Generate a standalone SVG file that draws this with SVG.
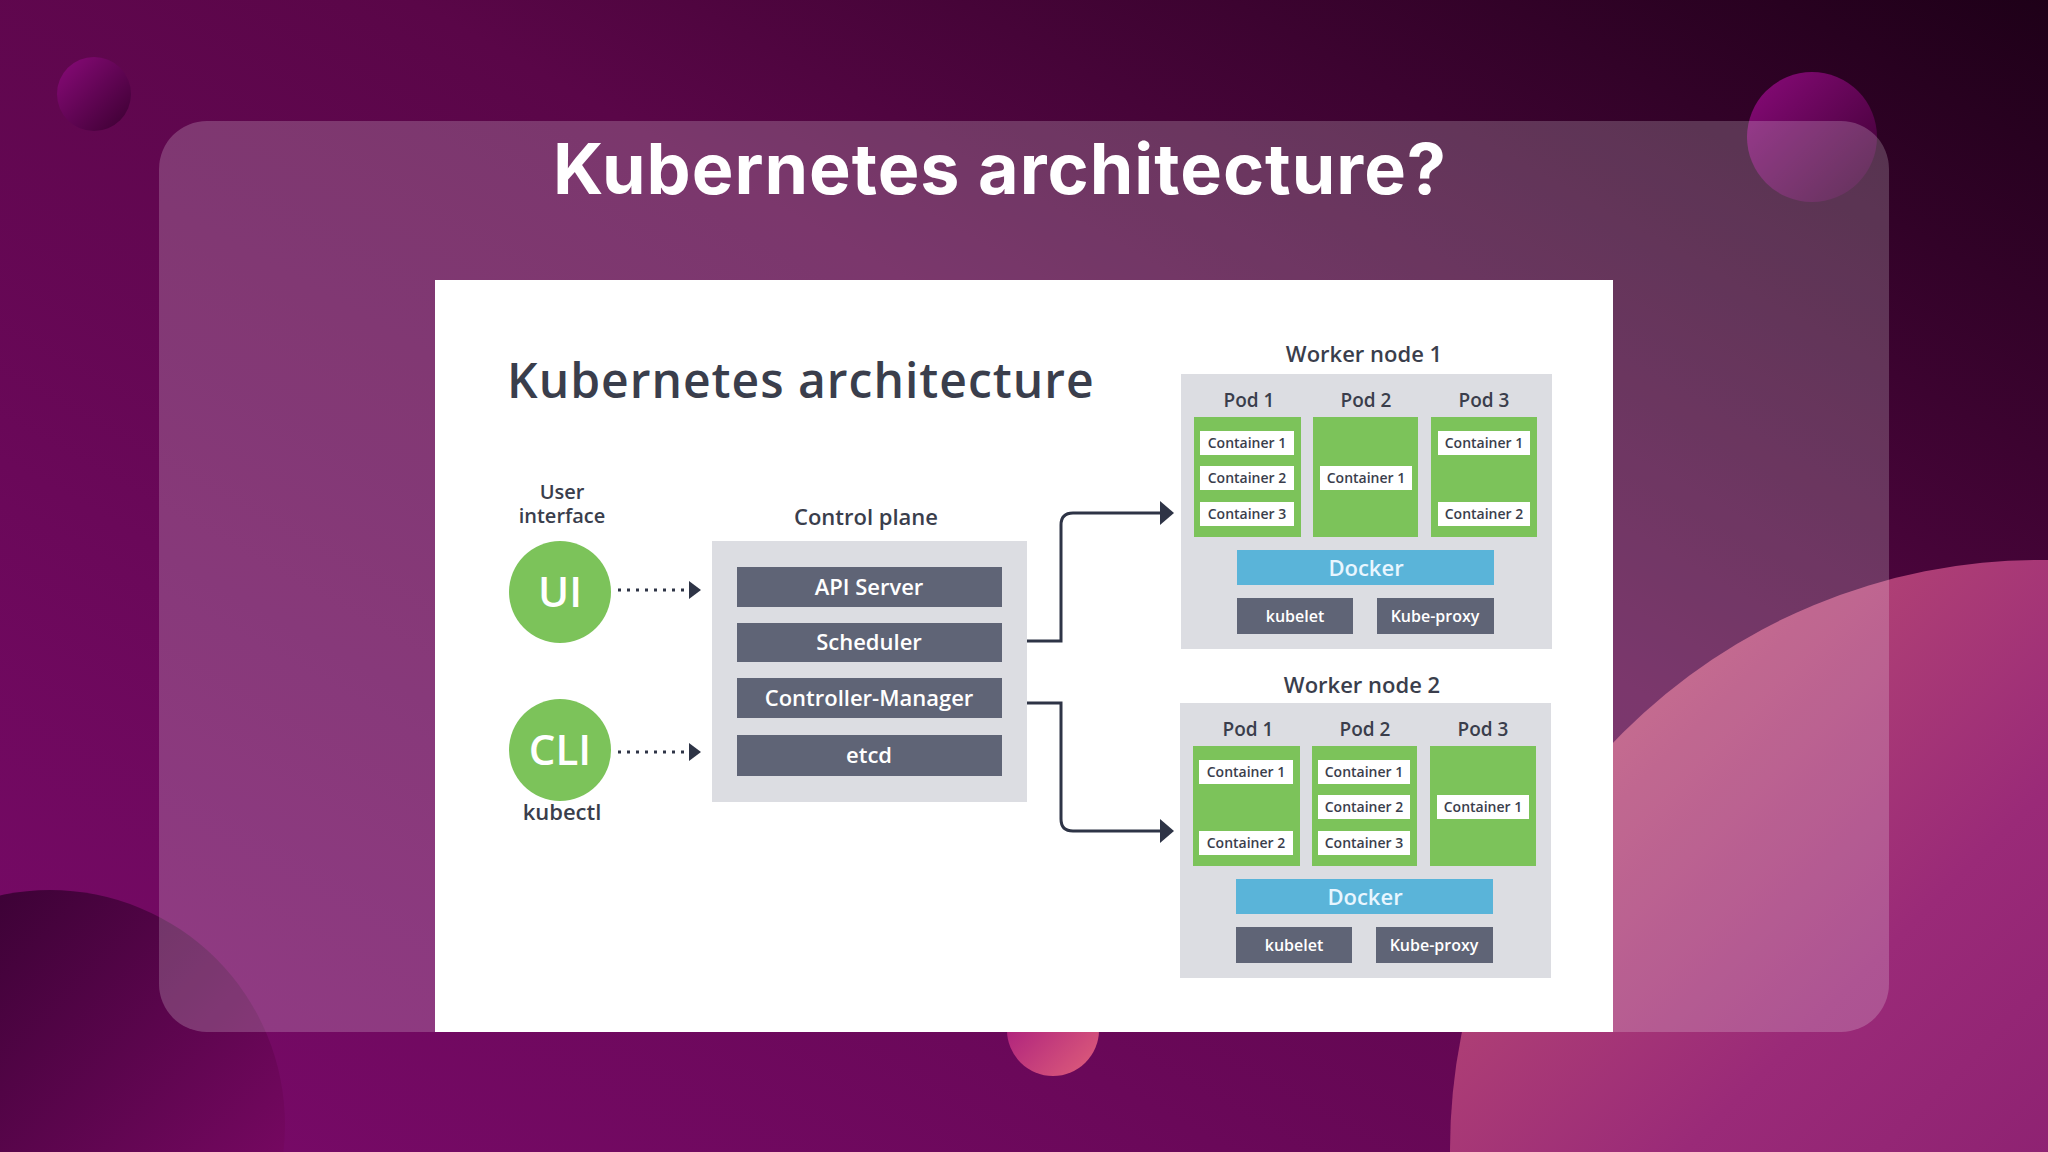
<svg xmlns="http://www.w3.org/2000/svg" width="2048" height="1152" viewBox="0 0 2048 1152">
<defs>
<linearGradient id="bg" x1="0" y1="1" x2="1" y2="0">
<stop offset="0" stop-color="#7a0a6a"/><stop offset="0.6" stop-color="#5a0648"/><stop offset="1" stop-color="#1e0018"/>
</linearGradient>
<linearGradient id="pink" x1="0" y1="0" x2="1" y2="1">
<stop offset="0" stop-color="#c85a72"/><stop offset="0.35" stop-color="#9a2a78"/><stop offset="1" stop-color="#6a0a60"/>
</linearGradient>
<linearGradient id="dark" x1="0" y1="0" x2="1" y2="1">
<stop offset="0" stop-color="#2a0028"/><stop offset="1" stop-color="#8a0a70"/>
</linearGradient>
<linearGradient id="ball" x1="0" y1="0" x2="1" y2="1">
<stop offset="0" stop-color="#8a0a7a"/><stop offset="1" stop-color="#3a0030"/>
</linearGradient>
<linearGradient id="orb" x1="0" y1="0" x2="1" y2="1">
<stop offset="0" stop-color="#a0107e"/><stop offset="1" stop-color="#e0607a"/>
</linearGradient>
<style>
.t{font-family:"Open Sans","Liberation Sans",sans-serif;fill:#3a3e4c;font-weight:600;text-anchor:middle}
.bar{fill:#5f6476}
.bt{font-family:"Open Sans","Liberation Sans",sans-serif;fill:#ffffff;font-weight:600;text-anchor:middle}
.gray{fill:#dcdde2}
.pod{fill:#7cc35a}
.ct{fill:#ffffff}
.ctt{font-family:"Open Sans","Liberation Sans",sans-serif;fill:#3a3e4c;font-weight:600;text-anchor:middle;font-size:14px}
.conn{fill:none;stroke:#2e3446;stroke-width:3}
.dot{fill:none;stroke:#2e3446;stroke-width:3;stroke-dasharray:3 6}
</style>
</defs>
<rect width="2048" height="1152" fill="url(#bg)"/>
<circle cx="94" cy="94" r="37" fill="url(#ball)"/>
<circle cx="1812" cy="137" r="65" fill="url(#ball)"/>
<circle cx="2040" cy="1150" r="590" fill="url(#pink)"/>
<circle cx="50" cy="1125" r="235" fill="url(#dark)"/>
<circle cx="1053" cy="1030" r="46" fill="url(#orb)"/>
<rect x="159" y="121" width="1730" height="911" rx="48" fill="#ffffff" fill-opacity="0.2"/>
<text x="1000" y="194" text-anchor="middle" font-family="Inter,'Liberation Sans',sans-serif" font-weight="700" font-size="70" letter-spacing="1" fill="#ffffff">Kubernetes architecture?</text>
<rect x="435" y="280" width="1178" height="752" fill="#ffffff"/>
<text x="507" y="398" font-family="'Open Sans','Liberation Sans',sans-serif" font-weight="600" font-size="48" letter-spacing="1" fill="#3a3e4c">Kubernetes architecture</text>
<g id="ui">
<text class="t" x="562" y="499" style="font-size:20px">User</text>
<text class="t" x="562" y="523" style="font-size:20px">interface</text>
<circle cx="560" cy="592" r="51" fill="#7cc35a"/>
<text class="bt" x="560" y="607" style="font-size:42px">UI</text>
</g>
<g id="cli">
<circle cx="560" cy="750" r="51" fill="#7cc35a"/>
<text class="bt" x="560" y="765" style="font-size:42px">CLI</text>
<text class="t" x="562" y="820" style="font-size:22px">kubectl</text>
</g>
<g id="control-plane">
<text class="t" x="866" y="525" style="font-size:22px">Control plane</text>
<rect class="gray" x="712" y="541" width="315" height="261"/>
<rect class="bar" x="737" y="567" width="265" height="40"/><text class="bt" x="869" y="595" style="font-size:22px">API Server</text>
<rect class="bar" x="737" y="623" width="265" height="39"/><text class="bt" x="869" y="650" style="font-size:22px">Scheduler</text>
<rect class="bar" x="737" y="678" width="265" height="40"/><text class="bt" x="869" y="706" style="font-size:22px">Controller-Manager</text>
<rect class="bar" x="737" y="735" width="265" height="41"/><text class="bt" x="869" y="763" style="font-size:22px">etcd</text>
</g>
<g id="worker1">
<text class="t" x="1364" y="362" style="font-size:22px">Worker node 1</text>
<rect class="gray" x="1181" y="374" width="371" height="275"/>
<text class="t" x="1249" y="407" style="font-size:19px">Pod 1</text>
<text class="t" x="1366" y="407" style="font-size:19px">Pod 2</text>
<text class="t" x="1484" y="407" style="font-size:19px">Pod 3</text>
<rect class="pod" x="1194" y="417" width="107" height="120"/>
<rect class="pod" x="1313" y="417" width="105" height="120"/>
<rect class="pod" x="1431" y="417" width="106" height="120"/>
<rect class="ct" x="1200" y="431" width="94" height="24"/><text class="ctt" x="1247" y="448">Container 1</text>
<rect class="ct" x="1200" y="466" width="94" height="24"/><text class="ctt" x="1247" y="483">Container 2</text>
<rect class="ct" x="1200" y="502" width="94" height="24"/><text class="ctt" x="1247" y="519">Container 3</text>
<rect class="ct" x="1320" y="466" width="92" height="24"/><text class="ctt" x="1366" y="483">Container 1</text>
<rect class="ct" x="1438" y="431" width="92" height="24"/><text class="ctt" x="1484" y="448">Container 1</text>
<rect class="ct" x="1438" y="502" width="92" height="24"/><text class="ctt" x="1484" y="519">Container 2</text>
<rect x="1237" y="550" width="257" height="35" fill="#5ab4d9"/><text class="bt" x="1366" y="576" style="font-size:22px;fill:#e8f6ff">Docker</text>
<rect class="bar" x="1237" y="598" width="116" height="36"/><text class="bt" x="1295" y="622" style="font-size:16px">kubelet</text>
<rect class="bar" x="1377" y="598" width="117" height="36"/><text class="bt" x="1435" y="622" style="font-size:16px">Kube-proxy</text>
</g>
<g id="worker2">
<text class="t" x="1362" y="693" style="font-size:22px">Worker node 2</text>
<rect class="gray" x="1180" y="703" width="371" height="275"/>
<text class="t" x="1248" y="736" style="font-size:19px">Pod 1</text>
<text class="t" x="1365" y="736" style="font-size:19px">Pod 2</text>
<text class="t" x="1483" y="736" style="font-size:19px">Pod 3</text>
<rect class="pod" x="1193" y="746" width="107" height="120"/>
<rect class="pod" x="1312" y="746" width="105" height="120"/>
<rect class="pod" x="1430" y="746" width="106" height="120"/>
<rect class="ct" x="1199" y="760" width="94" height="24"/><text class="ctt" x="1246" y="777">Container 1</text>
<rect class="ct" x="1199" y="831" width="94" height="24"/><text class="ctt" x="1246" y="848">Container 2</text>
<rect class="ct" x="1318" y="760" width="92" height="24"/><text class="ctt" x="1364" y="777">Container 1</text>
<rect class="ct" x="1318" y="795" width="92" height="24"/><text class="ctt" x="1364" y="812">Container 2</text>
<rect class="ct" x="1318" y="831" width="92" height="24"/><text class="ctt" x="1364" y="848">Container 3</text>
<rect class="ct" x="1437" y="795" width="92" height="24"/><text class="ctt" x="1483" y="812">Container 1</text>
<rect x="1236" y="879" width="257" height="35" fill="#5ab4d9"/><text class="bt" x="1365" y="905" style="font-size:22px;fill:#e8f6ff">Docker</text>
<rect class="bar" x="1236" y="927" width="116" height="36"/><text class="bt" x="1294" y="951" style="font-size:16px">kubelet</text>
<rect class="bar" x="1376" y="927" width="117" height="36"/><text class="bt" x="1434" y="951" style="font-size:16px">Kube-proxy</text>
</g>
<g id="connectors">
<path class="dot" d="M618,590 H690"/>
<path d="M689,581 L701,590 L689,599 z" fill="#2e3446"/>
<path class="dot" d="M618,752 H690"/>
<path d="M689,743 L701,752 L689,761 z" fill="#2e3446"/>
<path class="conn" d="M1027,641 H1061 V525 Q1061,513 1073,513 H1160"/>
<path d="M1160,501 L1174,513 L1160,525 z" fill="#2e3446"/>
<path class="conn" d="M1027,703 H1061 V819 Q1061,831 1073,831 H1160"/>
<path d="M1160,819 L1174,831 L1160,843 z" fill="#2e3446"/>
</g>
</svg>
